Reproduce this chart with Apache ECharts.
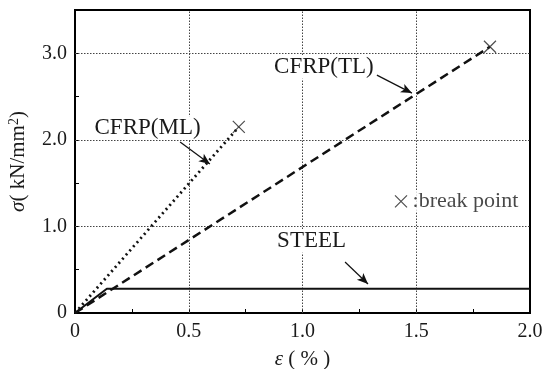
<!DOCTYPE html>
<html><head><meta charset="utf-8">
<script src="https://cdn.jsdelivr.net/npm/echarts@6/dist/echarts.min.js"></script>
<style>html,body{margin:0;padding:0;background:#fff}#c{width:545px;height:369px}</style>
</head><body><div id="c"></div>
<script>
// data (strain %, stress kN/mm2)
const steel = [[0, 0], [0.14, 0.28], [2.0, 0.28]];
const cfrpML = [[0, 0], [0.72, 2.15]];
const cfrpTL = [[0, 0], [1.824, 3.075]];
const breakPoints = [[0.72, 2.15], [1.824, 3.075]];
const legendBreak = [[1.433, 1.29]];
const xTicks = [0, 0.5, 1.0, 1.5, 2.0];
const yTicks = [0, 1.0, 2.0, 3.0];
// annotations: [label, textPos, arrowFrom, arrowTo]
const annML = ['CFRP(ML)', [0.319, 2.14], [0.462, 1.975], [0.593, 1.72]];
const annTL = ['CFRP(TL)', [1.094, 2.84], [1.327, 2.748], [1.481, 2.54]];
const annST = ['STEEL', [1.04, 0.83], [1.187, 0.589], [1.288, 0.335]];

const FONT = 'Liberation Serif';
const crossPath = 'path://M0,0L10,10M10,0L0,10';
const anns = [annML, annTL, annST];

const chart = echarts.init(document.getElementById('c'));
const fmt = v => v === 0 ? '0' : v.toFixed(1);
chart.setOption({
  animation: false,
  backgroundColor: '#fff',
  grid: { left: 75, right: 15, top: 10, bottom: 56, show: true, borderColor: '#000', borderWidth: 2, backgroundColor: 'transparent', containLabel: false, outerBoundsMode: 'none' },
  xAxis: {
    type: 'value', min: 0, max: 2.0, interval: 0.25,
    axisLine: { lineStyle: { color: '#000', width: 2 } },
    axisTick: { inside: true, length: 4, lineStyle: { color: '#000', width: 1 } },
    splitLine: { show: false },
    axisLabel: { color: '#1a1a1a', fontFamily: FONT, fontSize: 20, margin: 9,
      formatter: v => xTicks.some(t => Math.abs(t - v) < 1e-6) ? fmt(v) : '' },
    name: '{i|ε}{a| ( % )}', nameLocation: 'middle', nameGap: 36,
    nameTextStyle: { rich: { i: { fontFamily: FONT, fontSize: 21, fontStyle: 'italic', color: '#1a1a1a' }, a: { fontFamily: FONT, fontSize: 21, color: '#1a1a1a' } } }
  },
  yAxis: {
    type: 'value', min: 0, max: 3.5, interval: 0.5,
    axisLine: { lineStyle: { color: '#000', width: 2 } },
    axisTick: { inside: true, length: 4, lineStyle: { color: '#000', width: 1 } },
    splitLine: { show: false },
    axisLabel: { color: '#1a1a1a', fontFamily: FONT, fontSize: 20, margin: 8,
      formatter: v => yTicks.some(t => Math.abs(t - v) < 1e-6) ? fmt(v) : '' },
    name: '{i|σ}{a|( kN/mm}{s|2}{a|)}', nameLocation: 'middle', nameGap: 46, nameRotate: 90,
    nameTextStyle: { rich: {
      i: { fontFamily: FONT, fontSize: 21, fontStyle: 'italic', color: '#1a1a1a' },
      a: { fontFamily: FONT, fontSize: 21, color: '#1a1a1a' },
      s: { fontFamily: FONT, fontSize: 14, color: '#1a1a1a', verticalAlign: 'top', padding: [0, 0, 8, 0] } } }
  },
  series: [
    { // gridlines
      type: 'line', data: [], silent: true,
      markLine: { symbol: 'none', silent: true, label: { show: false },
        lineStyle: { type: [1.5, 1.5], color: '#444', width: 1 },
        data: [
          ...xTicks.filter(v => v > 0 && v < 2).map(v => ({ xAxis: v })),
          ...yTicks.filter(v => v > 0).map(v => ({ yAxis: v }))
        ] },
      z: 1
    },
    { name: 'STEEL', type: 'line', data: steel, symbol: 'none', lineStyle: { color: '#111', width: 2 }, z: 5 },
    { name: 'CFRP(ML)', type: 'line', data: cfrpML, symbol: 'none', lineStyle: { color: '#111', width: 2.8, type: [2, 3.5] }, z: 5 },
    { name: 'CFRP(TL)', type: 'line', data: cfrpTL, symbol: 'none', lineStyle: { color: '#111', width: 2.5, type: [9, 5] }, z: 5 },
    { type: 'scatter', data: breakPoints, symbol: crossPath, symbolSize: 12,
      itemStyle: { color: 'rgba(0,0,0,0)', borderColor: '#222', borderWidth: 1.2 }, z: 6 },
    { type: 'scatter', data: legendBreak, symbol: crossPath, symbolSize: 12,
      itemStyle: { color: 'rgba(0,0,0,0)', borderColor: '#222', borderWidth: 1.2 },
      label: { show: true, position: 'right', distance: 3, formatter: ':break point', color: '#1a1a1a', fontFamily: FONT, fontSize: 22, backgroundColor: '#fff', padding: [0, 2] }, z: 6 },
    ...anns.map(a => ({
      type: 'scatter', data: [], silent: true, z: 7,
      markPoint: { symbol: 'circle', symbolSize: 0, silent: true,
        label: { show: true, position: 'inside', formatter: a[0], color: '#1a1a1a', fontFamily: FONT, fontSize: 23, backgroundColor: '#fff', padding: [0, 2] },
        data: [{ coord: a[1] }] },
      markLine: { silent: true, symbol: ['none', 'arrow'], symbolSize: [7, 11], label: { show: false },
        lineStyle: { color: '#111', width: 1.2, type: 'solid' },
        data: [[{ coord: a[2] }, { coord: a[3] }]] }
    }))
  ]
});
</script></body></html>
